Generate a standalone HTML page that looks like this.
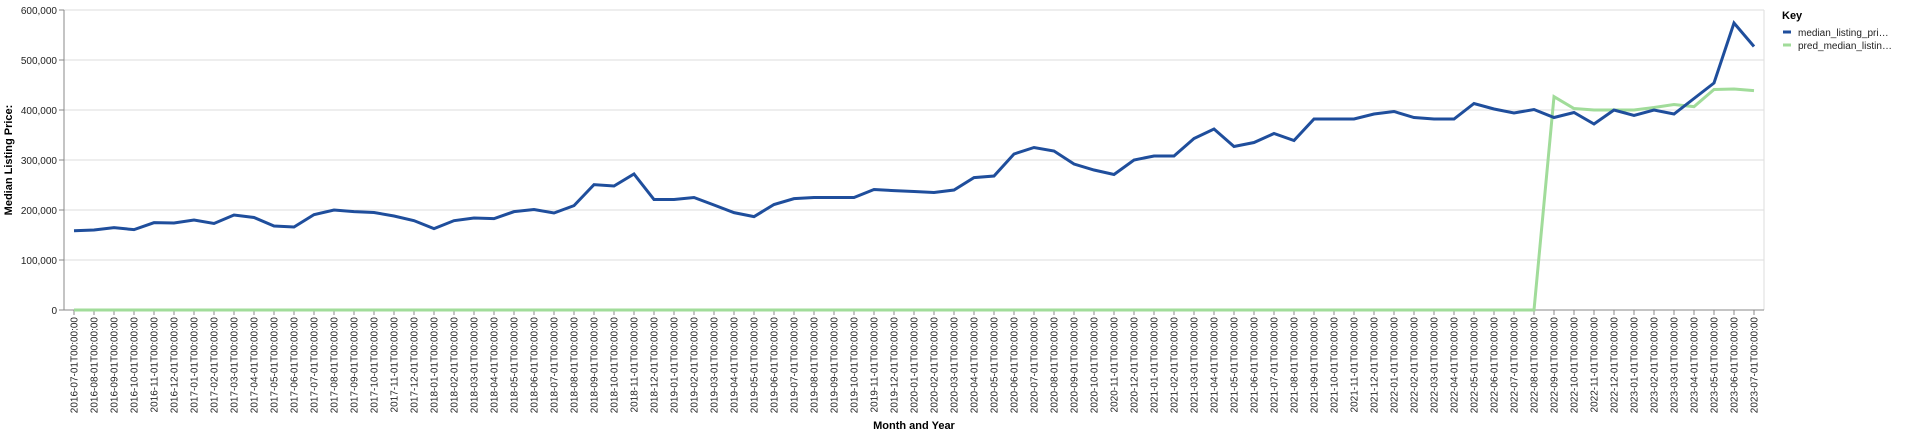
<!DOCTYPE html>
<html><head><meta charset="utf-8"><style>
body{margin:0;background:#fff;font-family:"Liberation Sans",Arial,sans-serif;}
svg text{font-family:"Liberation Sans",Arial,sans-serif;}
</style></head><body>
<svg id="chart" width="1920" height="434" xmlns="http://www.w3.org/2000/svg">
<g id="grid"></g>
<g id="xaxis"></g>
<g id="yaxis"></g>
<g id="series"></g>
<text x="914" y="429" text-anchor="middle" font-size="11" font-weight="bold">Month and Year</text>
<text transform="translate(12,160) rotate(-90)" text-anchor="middle" font-size="11" font-weight="bold">Median Listing Price:</text>
<g>
<text x="1782" y="19" font-size="11" font-weight="bold">Key</text>
<g><line x1="1783" y1="32" x2="1791" y2="32" stroke="#1f4e9c" stroke-width="3"/><text x="1798" y="36" font-size="10" fill="#222">median_listing_pri…</text></g>
<g><line x1="1783" y1="45" x2="1791" y2="45" stroke="#a1dc9a" stroke-width="3"/><text x="1798" y="49" font-size="10" fill="#222">pred_median_listin…</text></g>
</g>
</svg>
<script>
const actual=[158.6,160,164.7,160.7,174.7,174,180,173,190,185,168,166,190.7,200,196.7,195,188,178.7,162.7,178.7,184,182.7,196.7,201,194,208.7,250.7,248,272,221,221,225,210,194.7,186.7,211,222.7,225,225,225,241,238.7,237,235,240,264.7,268,312,325,318,292,280,271,300,308,308,343,362,327,335,353,339,382,382,382,392,397,385,382,382,413,402,394,401,385,395,372,400,389,400,392,423,454,574,527].map(v=>v*1000);
const predicted=[0,0,0,0,0,0,0,0,0,0,0,0,0,0,0,0,0,0,0,0,0,0,0,0,0,0,0,0,0,0,0,0,0,0,0,0,0,0,0,0,0,0,0,0,0,0,0,0,0,0,0,0,0,0,0,0,0,0,0,0,0,0,0,0,0,0,0,0,0,0,0,0,0,0,426.7,403,400,400,400,405,411,406.7,441,442,438.7].map(v=>v*1000);
const yTicks=[0,100000,200000,300000,400000,500000,600000];
const startYear=2016,startMonth=7;
const NS="http://www.w3.org/2000/svg";
const L=64,R=1764,T=10,B=310;
const xs=i=>74+i*((1754-74)/(actual.length-1));
const ys=v=>B-(v/600000)*(B-T);
function mk(tag,attrs,parent){const e=document.createElementNS(NS,tag);for(const k in attrs)e.setAttribute(k,attrs[k]);parent.appendChild(e);return e;}
const grid=document.getElementById('grid'),xa=document.getElementById('xaxis'),ya=document.getElementById('yaxis'),ser=document.getElementById('series');
mk('line',{x1:R,y1:T,x2:R,y2:B,stroke:'#ddd'},grid);
yTicks.forEach(t=>{
  const g=mk('line',{x1:L,y1:ys(t),x2:R,y2:ys(t),stroke:'#ddd'},grid);
  
  
  mk('line',{x1:L-5,y1:ys(t),x2:L,y2:ys(t),stroke:'#888'},ya);
  const tx=mk('text',{x:L-7,y:ys(t)+4,'text-anchor':'end','font-size':'10',fill:'#222'},ya);
  tx.textContent=t.toLocaleString('en-US');
  
  
});
mk('line',{x1:L,y1:T,x2:L,y2:B,stroke:'#888'},ya);
mk('line',{x1:L,y1:B,x2:R,y2:B,stroke:'#888'},xa);
actual.forEach((v,i)=>{
  const m=startMonth-1+i,yr=startYear+Math.floor(m/12),mo=(m%12)+1;
  const lab=yr+'-'+String(mo).padStart(2,'0')+'-01T00:00:00';
  const x=xs(i);
  mk('line',{x1:x,y1:B,x2:x,y2:B+5,stroke:'#888'},xa);
  const tx=mk('text',{transform:`translate(${x+3.5},${B+7}) rotate(-90)`,'text-anchor':'end','font-size':'10',fill:'#222'},xa);
  tx.textContent=lab;
  
  
});
function line(arr,color,name){
  const p=mk('polyline',{points:arr.map((v,i)=>xs(i)+','+ys(v)).join(' '),fill:'none',stroke:color,'stroke-width':'3','stroke-linejoin':'miter'},ser);
  
  
}
line(predicted,'#a1dc9a','pred-median-line');
line(actual,'#1f4e9c','median-listing-line');
</script>
</body></html>
